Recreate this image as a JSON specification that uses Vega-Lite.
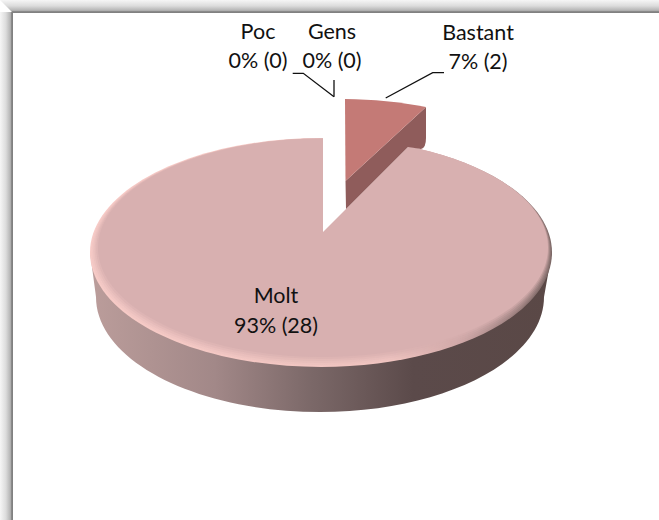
{
"$schema":"https://vega.github.io/schema/vega-lite/v6.json",
"width":659,"height":520,"padding":0,
"autosize":{"type":"fit","contains":"padding"},
"background":"white",
"view":{"stroke":null},
"data":{"values":[
{"category":"Bastant","count":2,"percent":7,"label":"Bastant\n7% (2)"},
{"category":"Poc","count":0,"percent":0,"label":"Poc\n0% (0)"},
{"category":"Gens","count":0,"percent":0,"label":"Gens\n0% (0)"},
{"category":"Molt","count":28,"percent":93,"label":"Molt\n93% (28)"}
]},
"layer":[
{"transform":[{"filter":"datum.category==='Molt'"}],
 "mark":{"type":"point","filled":true,"opacity":1,"size":4,"strokeWidth":0,
 "shape":"M-329.5 -248 L-316.5 -248 L-316.5 260 L-329.5 260 Z",
 "fill":{"gradient":"linear","x1":0,"y1":0,"x2":1,"y2":0,"stops":[{"offset":0,"color":"#f6f6f6"},{"offset":0.45,"color":"#dcdcdc"},{"offset":0.8,"color":"#b4b4b4"},{"offset":0.88,"color":"#8a8a8a"},{"offset":1,"color":"#7c7c7c"}]}}},
{"transform":[{"filter":"datum.category==='Molt'"}],
 "mark":{"type":"point","filled":true,"opacity":1,"size":4,"strokeWidth":0,
 "shape":"M-329.5 -260 L329.5 -260 L329.5 -247 L-316.5 -247 L-329.5 -260 Z",
 "fill":{"gradient":"linear","x1":0,"y1":0,"x2":0,"y2":1,"stops":[{"offset":0,"color":"#f6f6f6"},{"offset":0.45,"color":"#dcdcdc"},{"offset":0.8,"color":"#b4b4b4"},{"offset":0.88,"color":"#8a8a8a"},{"offset":1,"color":"#7c7c7c"}]}}},
{"transform":[{"filter":"datum.category==='Molt'"}],
 "mark":{"type":"point","filled":true,"opacity":1,"size":4,"strokeWidth":0,
 "shape":"M-239.5 -8 L-233.5 37 A224 115 0 0 0 214.5 37 L222.5 -8 Z",
 "fill":{"gradient":"linear","x1":0,"y1":0,"x2":1,"y2":0,"stops":[{"offset":0,"color":"#bb9d9b"},{"offset":0.27,"color":"#a28888"},{"offset":0.48,"color":"#7b6868"},{"offset":0.7,"color":"#5b4a4a"},{"offset":1,"color":"#5a4846"}]}}},
{"transform":[{"filter":"datum.category==='Molt'"}],
 "mark":{"type":"point","filled":true,"opacity":1,"size":4,"strokeWidth":0,
 "shape":"M-239.5 -7.5 A231 114.5 0 1 0 222.5 -7.5 A231 114.5 0 1 0 -239.5 -7.5 Z",
 "fill":{"gradient":"linear","x1":0,"y1":0,"x2":1,"y2":0,"stops":[{"offset":0,"color":"#f7cbc7"},{"offset":0.65,"color":"#f0c4c0"},{"offset":0.8,"color":"#d0a8a8"},{"offset":1,"color":"#7a6664"}]}}},
{"transform":[{"filter":"datum.category==='Molt'"}],
 "mark":{"type":"point","filled":true,"opacity":0.14,"size":4,"strokeWidth":0,"fill":"#d8b0b0",
 "shape":"M-237.9 -8.25 A229.8 113.25 0 1 0 221.7 -8.25 A229.8 113.25 0 1 0 -237.9 -8.25 Z"}},
{"transform":[{"filter":"datum.category==='Molt'"}],
 "mark":{"type":"point","filled":true,"opacity":0.2,"size":4,"strokeWidth":0,"fill":"#d8b0b0",
 "shape":"M-236.3 -9.25 A228.6 112.25 0 1 0 220.9 -9.25 A228.6 112.25 0 1 0 -236.3 -9.25 Z"}},
{"transform":[{"filter":"datum.category==='Molt'"}],
 "mark":{"type":"point","filled":true,"opacity":0.3,"size":4,"strokeWidth":0,"fill":"#d8b0b0",
 "shape":"M-234.7 -10.25 A227.4 111.25 0 1 0 220.1 -10.25 A227.4 111.25 0 1 0 -234.7 -10.25 Z"}},
{"transform":[{"filter":"datum.category==='Molt'"}],
 "mark":{"type":"point","filled":true,"opacity":0.5,"size":4,"strokeWidth":0,"fill":"#d8b0b0",
 "shape":"M-233.1 -11.25 A226.2 110.25 0 1 0 219.3 -11.25 A226.2 110.25 0 1 0 -233.1 -11.25 Z"}},
{"transform":[{"filter":"datum.category==='Molt'"}],
 "mark":{"type":"point","filled":true,"opacity":1,"size":4,"strokeWidth":0,"fill":"#d8b0b0",
 "shape":"M-231.5 -12.25 A225 109.25 0 1 0 218.5 -12.25 A225 109.25 0 1 0 -231.5 -12.25 Z"}},
{"transform":[{"filter":"datum.category==='Molt'"}],
 "mark":{"type":"point","filled":true,"opacity":1,"size":4,"strokeWidth":0,"fill":"white",
 "shape":"M-6.5 -28 L90.5 -125 L90.5 -140 L-6.5 -140 Z"}},
{"transform":[{"filter":"datum.category==='Bastant'"}],
 "mark":{"type":"point","filled":true,"opacity":1,"size":4,"strokeWidth":0,"fill":"#8f5c5b",
 "shape":"M16 -79 L96.5 -153 L96.5 -122 Q96.5 -112 91.5 -111 L78.5 -113 L16.5 -51 Z"}},
{"transform":[{"filter":"datum.category==='Bastant'"}],
 "mark":{"type":"point","filled":true,"opacity":1,"size":4,"strokeWidth":0,"fill":"#c47a76",
 "shape":"M15.5 -161 A231 114.5 0 0 1 96.5 -153 L16 -79 Z"}},
{"transform":[{"filter":"datum.category==='Bastant'"}],
 "mark":{"type":"point","filled":false,"opacity":1,"size":4,"stroke":"#111111","strokeWidth":1.3,
 "shape":"M56.2 -162 L103.2 -187.3 L114.5 -187.3"}},
{"transform":[{"filter":"datum.category==='Gens'"}],
 "mark":{"type":"point","filled":false,"opacity":1,"size":4,"stroke":"#111111","strokeWidth":1.3,
 "shape":"M4.5 -180 L4.5 -163.3"}},
{"transform":[{"filter":"datum.category==='Poc'"}],
 "mark":{"type":"point","filled":false,"opacity":1,"size":4,"stroke":"#111111","strokeWidth":1.3,
 "shape":"M-36.8 -186.7 L-26.2 -186.7 L4.5 -163.3"}},
{"transform":[{"filter":"datum.category==='Poc'"}],
 "mark":{"type":"text","font":"Lato","fontSize":21.5,"lineHeight":29,"lineBreak":"\n","align":"center","baseline":"alphabetic","color":"#111111","dx":-71.5,"dy":-221},
 "encoding":{"text":{"field":"label"}}},
{"transform":[{"filter":"datum.category==='Gens'"}],
 "mark":{"type":"text","font":"Lato","fontSize":21.5,"lineHeight":29,"lineBreak":"\n","align":"center","baseline":"alphabetic","color":"#111111","dx":2.5,"dy":-221},
 "encoding":{"text":{"field":"label"}}},
{"transform":[{"filter":"datum.category==='Bastant'"}],
 "mark":{"type":"text","font":"Lato","fontSize":21.5,"lineHeight":29,"lineBreak":"\n","align":"center","baseline":"alphabetic","color":"#111111","dx":148.5,"dy":-220},
 "encoding":{"text":{"field":"label"}}},
{"transform":[{"filter":"datum.category==='Molt'"}],
 "mark":{"type":"text","font":"Lato","fontSize":21.5,"lineHeight":30,"lineBreak":"\n","align":"center","baseline":"alphabetic","color":"#111111","dx":-53.5,"dy":43},
 "encoding":{"text":{"field":"label"}}}
]
}
